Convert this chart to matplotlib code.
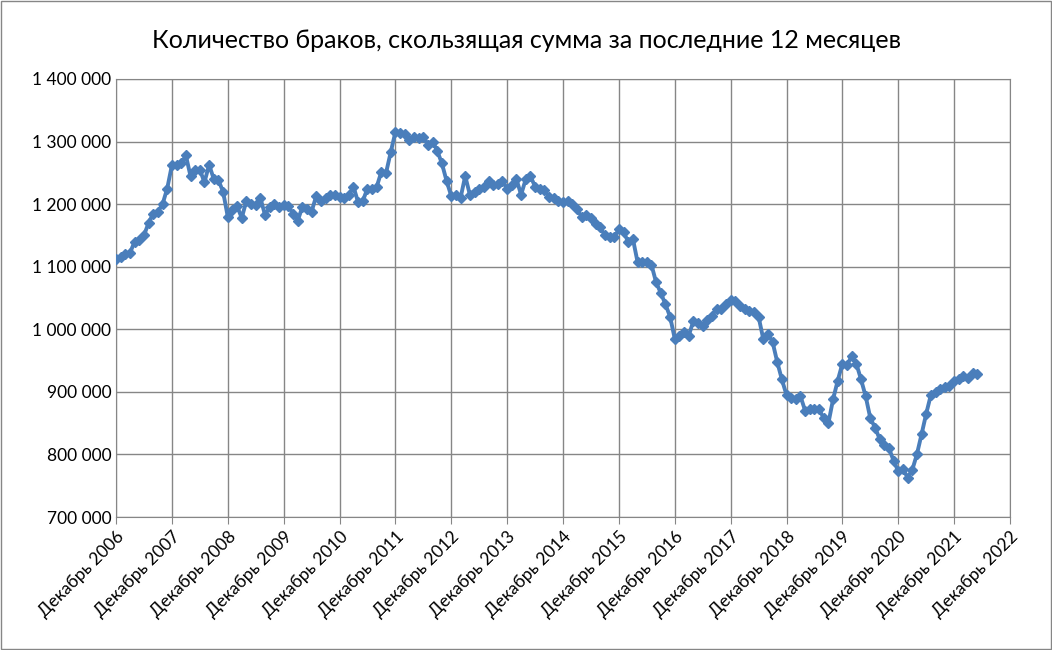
import matplotlib
matplotlib.use("Agg")
import matplotlib.pyplot as plt
from matplotlib.ticker import FuncFormatter, MultipleLocator

plt.rcParams['font.family'] = ['Lato', 'DejaVu Sans']

start_year = 2006  # first point: December 2006
values = [1113,
 1116,1120,1122,1140,1143,1150,1170,1185,1188,1200,1225,1262,
 1262,1265,1278,1245,1255,1255,1235,1263,1240,1238,1220,1180,
 1190,1197,1178,1205,1200,1198,1210,1183,1195,1200,1195,1198,
 1197,1185,1173,1195,1192,1188,1213,1205,1210,1215,1215,1212,
 1210,1215,1228,1203,1205,1225,1225,1228,1252,1250,1283,1315,
 1313,1312,1303,1307,1305,1308,1295,1300,1285,1265,1237,1213,
 1215,1210,1245,1215,1220,1225,1228,1237,1230,1232,1237,1225,
 1230,1240,1215,1240,1245,1228,1225,1222,1212,1210,1205,1203,
 1205,1200,1192,1180,1183,1178,1168,1163,1150,1148,1147,1160,
 1155,1140,1145,1108,1108,1107,1103,1075,1058,1040,1020,985,
 990,995,990,1013,1010,1005,1015,1022,1033,1032,1040,1047,
 1045,1038,1033,1030,1028,1020,985,993,980,948,920,895,
 890,888,893,870,873,872,872,858,850,888,918,945,
 943,957,945,920,893,858,843,825,815,810,790,773,
 777,763,775,800,832,865,895,900,905,908,910,918,
 920,925,922,930,928]
values = [v * 1000 for v in values]
tick_labels = [f"Декабрь {y}" for y in range(2006, 2023)]

fig = plt.figure(figsize=(10.52, 6.5), dpi=100)
ax = fig.add_axes([116/1052, 1-517/650, 894/1052, 438/650])
x = list(range(len(values)))
ax.plot(x, values, color="#4a7ebb", lw=2.8, marker="D", ms=5, zorder=3)
ax.set_xlim(0, 192)
ax.set_ylim(700000, 1400000)
ax.set_xticks(range(0, 193, 12))
ax.set_xticklabels(tick_labels, rotation=45, ha="right", rotation_mode="anchor", fontsize=12.5)
ax.yaxis.set_major_locator(MultipleLocator(100000))
ax.yaxis.set_major_formatter(FuncFormatter(lambda v, p: f"{int(v):,}".replace(",", " ")))
ax.tick_params(axis="y", labelsize=12.5, length=0)
ax.tick_params(axis="x", length=5, color="#868686")
ax.grid(True, color="#868686", lw=1)
for s in ax.spines.values():
    s.set_color("#868686")
ax.set_axisbelow(True)
fig.text(0.5, 1-40/650, "Количество браков, скользящая сумма за последние 12 месяцев",
         ha="center", va="center", fontsize=18)
fig.patches.append(plt.Rectangle((0.001, 0.001), 0.998, 0.998, transform=fig.transFigure,
                                 fill=False, ec="#868686", lw=1))
fig.savefig("out.png", dpi=100)
